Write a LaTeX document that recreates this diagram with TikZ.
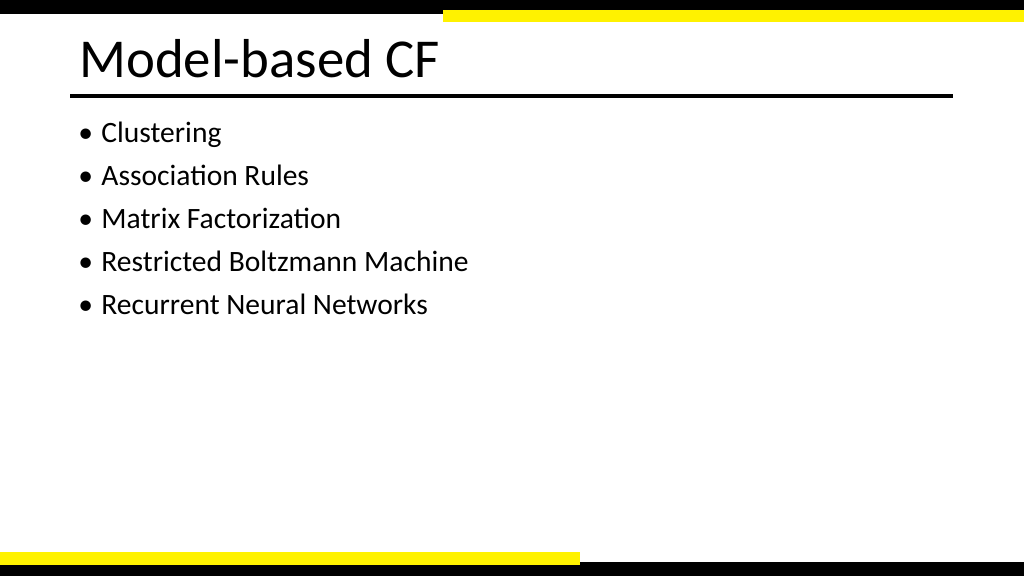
\documentclass[tikz,border=0pt]{standalone}
\usepackage{fontspec}
\setmainfont{Carlito}
\usetikzlibrary{positioning}
\tikzset{bar/.style={fill=black, draw=none},
    accent/.style={fill=yellow, draw=none},
    item/.style={anchor=base west, inner sep=0pt, font=\fontsize{21}{25}\selectfont}}
\begin{document}
\begin{tikzpicture}[x=0.025cm, y=-0.025cm]
    \useasboundingbox (0,0) rectangle (1024,576);
    % frame bars
    \fill[bar] (0,0) rectangle (1024,14);
    \fill[accent] (443,10) rectangle (1024,22);
    \fill[bar] (0,562) rectangle (1024,576);
    \fill[accent] (0,552) rectangle (580,565);
    % title
    \node (title) [anchor=base west, inner sep=0pt, font=\fontsize{39}{44}\selectfont] at (79,78) {Model-based CF};
    \draw[line width=3.5pt] (70,96) -- (953,96);
    % bullets
    \foreach \t [count=\i] in {Clustering, Association Rules, Matrix Factorization,
        Restricted Boltzmann Machine, Recurrent Neural Networks} {
        \node (b\i) [item] at (78,{143+43*(\i-1)}) {\textbullet\hspace{6pt}\t};
    }
\end{tikzpicture}
\end{document}
